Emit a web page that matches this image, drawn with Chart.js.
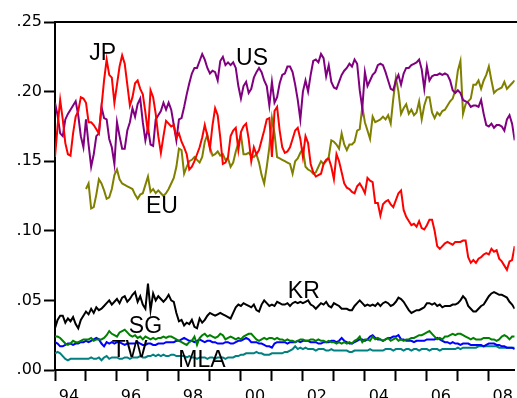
<!DOCTYPE html>
<html>
<head>
<meta charset="utf-8">
<script src="https://cdn.jsdelivr.net/npm/chart.js@4/dist/chart.umd.min.js"></script>
<style>
  html, body { margin: 0; padding: 0; background: #fff; overflow: hidden; }
  canvas { display: block; }
</style>
</head>
<body>
<canvas id="chart" width="517" height="398"></canvas>
<script>
// Monthly shares, January 1994 onward (one value per month).
const firstYear = 1994;

const jp = [
  .153,.175,.194,.180,.163,.155,.154,.170,.182,.186,.196,.195,
  .192,.178,.178,.176,.173,.170,.189,.208,.223,.212,.210,.192,
  .205,.218,.226,.220,.205,.190,.196,.206,.208,.202,.198,.185,
  .170,.201,.196,.184,.168,.156,.168,.179,.177,.175,.176,.167,
  .170,.164,.160,.155,.144,.146,.150,.155,.160,.167,.176,.168,
  .159,.176,.188,.183,.167,.148,.149,.153,.168,.172,.174,.158,
  .171,.175,.177,.166,.150,.160,.155,.158,.165,.172,.180,.181,
  .153,.186,.189,.172,.160,.156,.157,.160,.166,.172,.174,.166,
  .153,.168,.163,.148,.142,.139,.140,.141,.148,.151,.152,.146,
  .137,.155,.150,.142,.134,.131,.130,.128,.127,.132,.134,.131,
  .127,.138,.136,.135,.120,.120,.111,.119,.121,.122,.119,.117,
  .122,.127,.129,.115,.110,.107,.104,.105,.103,.107,.102,.101,
  .104,.108,.108,.100,.089,.087,.089,.091,.092,.091,.090,.092,
  .092,.092,.093,.093,.081,.077,.079,.077,.080,.081,.083,.084,
  .083,.087,.085,.086,.080,.078,.075,.072,.078,.079,.089
];

const us = [
  .192,.183,.170,.168,.180,.184,.187,.190,.193,.183,.168,.160,
  .180,.162,.146,.155,.168,.170,.189,.181,.180,.166,.160,.148,
  .178,.168,.159,.159,.172,.178,.188,.182,.191,.195,.178,.165,
  .174,.162,.161,.180,.183,.186,.192,.187,.192,.187,.176,.165,
  .180,.181,.189,.198,.206,.213,.217,.217,.222,.227,.223,.217,
  .213,.215,.214,.208,.222,.225,.219,.221,.219,.221,.217,.204,
  .195,.204,.207,.199,.202,.210,.214,.217,.214,.208,.204,.190,
  .207,.192,.196,.206,.212,.213,.218,.218,.214,.205,.194,.180,
  .200,.208,.200,.212,.222,.223,.221,.227,.224,.211,.219,.207,
  .203,.202,.207,.212,.215,.217,.220,.218,.223,.220,.201,.188,
  .214,.204,.208,.212,.214,.219,.220,.219,.214,.208,.202,.201,
  .208,.212,.205,.213,.217,.217,.219,.220,.221,.223,.216,.202,
  .218,.208,.211,.212,.212,.213,.212,.213,.212,.208,.201,.199,
  .201,.199,.194,.193,.192,.189,.190,.190,.189,.194,.184,.176,
  .175,.177,.174,.176,.176,.175,.172,.180,.183,.177,.165
];

// EU series begins in January 1995
const euStartMonth = 12;
const eu = [
  .130,.134,.116,.117,.126,.137,.134,.129,.123,.124,.130,.140,
  .144,.137,.134,.133,.132,.131,.130,.126,.123,.126,.127,.133,
  .139,.128,.130,.127,.129,.127,.125,.127,.130,.134,.138,.146,
  .159,.158,.141,.146,.150,.151,.153,.151,.149,.153,.164,.169,
  .160,.154,.155,.157,.154,.155,.151,.152,.146,.149,.157,.163,
  .169,.155,.155,.156,.154,.153,.155,.149,.140,.134,.146,.160,
  .181,.170,.153,.152,.151,.150,.149,.148,.141,.150,.152,.156,
  .159,.146,.144,.143,.141,.142,.146,.150,.148,.150,.153,.165,
  .164,.162,.159,.170,.162,.158,.162,.162,.164,.172,.173,.189,
  .178,.172,.166,.182,.178,.179,.180,.182,.180,.183,.177,.195,
  .210,.200,.184,.188,.191,.184,.187,.183,.185,.193,.180,.190,
  .196,.196,.185,.181,.185,.183,.186,.187,.190,.193,.195,.201,
  .215,.222,.184,.191,.193,.195,.205,.205,.208,.202,.208,.212,
  .218,.208,.199,.201,.202,.203,.207,.202,.204,.206,.208
];

const kr = [
  .030,.036,.039,.039,.034,.037,.035,.038,.033,.030,.036,.039,
  .042,.040,.044,.041,.045,.043,.044,.046,.048,.050,.047,.049,
  .051,.048,.052,.053,.049,.051,.054,.056,.049,.053,.047,.044,
  .062,.043,.055,.050,.053,.051,.049,.051,.054,.050,.049,.041,
  .035,.036,.032,.034,.033,.036,.031,.030,.037,.034,.036,.039,
  .041,.040,.039,.040,.041,.040,.039,.038,.037,.041,.045,.047,
  .046,.048,.047,.046,.045,.047,.043,.042,.047,.050,.048,.046,
  .047,.046,.049,.048,.047,.047,.048,.046,.048,.049,.048,.049,
  .048,.049,.050,.047,.046,.044,.046,.048,.047,.049,.046,.045,
  .048,.047,.046,.044,.044,.044,.043,.043,.046,.048,.050,.048,
  .046,.047,.046,.047,.046,.048,.046,.048,.049,.048,.046,.047,
  .049,.052,.051,.049,.046,.043,.041,.042,.043,.043,.044,.045,
  .048,.048,.047,.048,.046,.047,.045,.046,.046,.046,.047,.047,
  .048,.050,.053,.051,.046,.044,.042,.042,.044,.046,.047,.050,
  .053,.055,.056,.055,.054,.054,.053,.052,.049,.047,.044
];

const sg = [
  .024,.024,.023,.021,.019,.018,.019,.021,.020,.020,.021,.022,
  .022,.022,.023,.021,.022,.022,.022,.023,.025,.028,.026,.025,
  .024,.027,.028,.029,.027,.025,.024,.025,.023,.024,.022,.024,
  .023,.022,.023,.022,.023,.023,.024,.023,.024,.024,.023,.022,
  .021,.020,.019,.018,.020,.021,.024,.018,.023,.025,.026,.024,
  .025,.024,.023,.024,.026,.025,.022,.023,.024,.023,.022,.023,
  .022,.024,.025,.026,.026,.024,.022,.021,.022,.023,.022,.023,
  .023,.022,.023,.022,.022,.021,.022,.021,.021,.020,.021,.022,
  .022,.021,.021,.022,.022,.021,.022,.021,.021,.020,.021,.020,
  .020,.019,.020,.019,.020,.019,.020,.019,.021,.022,.024,.020,
  .022,.022,.021,.024,.022,.023,.022,.021,.022,.023,.021,.022,
  .023,.021,.022,.021,.022,.022,.023,.023,.024,.025,.025,.026,
  .027,.028,.026,.024,.022,.023,.022,.024,.024,.025,.026,.025,
  .026,.026,.025,.024,.023,.022,.023,.022,.022,.022,.023,.023,
  .023,.022,.022,.021,.022,.024,.025,.024,.022,.024,.024
];

const tw = [
  .020,.019,.017,.017,.018,.019,.019,.018,.019,.019,.020,.020,
  .021,.020,.021,.022,.023,.022,.019,.017,.020,.019,.020,.019,
  .020,.020,.019,.018,.019,.019,.019,.019,.020,.019,.018,.018,
  .019,.019,.018,.018,.019,.019,.019,.020,.020,.020,.020,.021,
  .021,.022,.023,.022,.021,.021,.020,.021,.022,.021,.020,.021,
  .021,.020,.020,.019,.019,.019,.020,.020,.019,.019,.020,.021,
  .021,.022,.023,.022,.020,.020,.020,.019,.019,.018,.017,.017,
  .016,.019,.020,.020,.020,.020,.019,.020,.020,.020,.021,.020,
  .021,.021,.021,.020,.020,.020,.019,.019,.020,.020,.020,.021,
  .021,.020,.021,.023,.021,.020,.019,.019,.020,.021,.022,.022,
  .021,.022,.024,.025,.023,.022,.022,.021,.022,.023,.023,.024,
  .024,.025,.022,.022,.021,.021,.021,.020,.021,.021,.021,.021,
  .022,.022,.022,.022,.023,.022,.021,.020,.020,.019,.020,.019,
  .019,.018,.019,.019,.019,.018,.018,.018,.018,.018,.017,.018,
  .019,.019,.019,.018,.018,.017,.017,.016,.016,.016,.015
];

const mla = [
  .012,.013,.012,.010,.008,.007,.008,.008,.008,.008,.008,.008,
  .008,.008,.009,.008,.008,.009,.007,.009,.010,.008,.009,.009,
  .009,.008,.008,.009,.009,.008,.009,.009,.009,.010,.009,.009,
  .010,.010,.011,.010,.011,.010,.011,.010,.010,.011,.011,.010,
  .010,.010,.010,.009,.010,.009,.009,.008,.009,.009,.009,.008,
  .009,.009,.008,.009,.009,.009,.008,.009,.009,.009,.010,.010,
  .011,.011,.012,.012,.012,.012,.013,.012,.012,.011,.011,.011,
  .012,.012,.012,.012,.012,.013,.013,.014,.015,.017,.015,.016,
  .015,.016,.015,.015,.015,.014,.015,.015,.015,.014,.014,.015,
  .014,.014,.014,.014,.014,.014,.013,.013,.014,.014,.014,.014,
  .014,.014,.015,.014,.014,.014,.014,.014,.015,.015,.015,.014,
  .015,.015,.015,.014,.015,.015,.014,.015,.015,.014,.015,.015,
  .015,.014,.015,.015,.015,.014,.015,.015,.015,.015,.015,.015,
  .016,.015,.016,.016,.016,.016,.016,.016,.017,.017,.017,.017,
  .017,.017,.017,.017,.016,.016,.016,.016,.016,.016,.016
];

// Axis tick values and their text
const yTicks = [0, .05, .10, .15, .20, .25];
const yearLabels = ['94', '96', '98', '00', '02', '04', '06', '08'];
const lastYear = 2008;

// Series names and where their captions sit (year, value of the text baseline)
const captions = [
  { text: 'JP',  year: 1995.54, value: .2225 },
  { text: 'US',  year: 2000.36, value: .2190 },
  { text: 'EU',  year: 1997.45, value: .1128 },
  { text: 'KR',  year: 2002.03, value: .0515 },
  { text: 'SG',  year: 1996.92, value: .0264 },
  { text: 'TW',  year: 1996.41, value: .0096 },
  { text: 'MLA', year: 1998.74, value: .0024 }
];

const toPoints = (vals, start = 0) =>
  vals.map((v, i) => ({ x: firstYear + (start + i) / 12, y: v }));

const lastMonth = jp.length - 1;
const xMax = firstYear + lastMonth / 12;

const lineStyle = { borderWidth: 2, pointRadius: 0, tension: 0, fill: false };
const datasets = [
  { label: 'JP',  data: toPoints(jp),  borderColor: '#ff0000', ...lineStyle },
  { label: 'US',  data: toPoints(us),  borderColor: '#800080', ...lineStyle },
  { label: 'EU',  data: toPoints(eu, euStartMonth), borderColor: '#808000', ...lineStyle },
  { label: 'KR',  data: toPoints(kr),  borderColor: '#000000', ...lineStyle },
  { label: 'SG',  data: toPoints(sg),  borderColor: '#008000', ...lineStyle },
  { label: 'TW',  data: toPoints(tw),  borderColor: '#0000ff', ...lineStyle },
  { label: 'MLA', data: toPoints(mla), borderColor: '#008080', ...lineStyle }
];

// Year boundaries get tick marks; labels sit inside each labelled year
const yearMarks = [];
for (let y = firstYear; y <= lastYear; y++) yearMarks.push(y);
const labelOffset = 0.45;
const labelAt = yearLabels.map((t, i) => ({ value: firstYear + 2 * i + labelOffset, text: t }));
const isYearMark = v => Math.abs(v - Math.round(v)) < 1e-6;

const tickFont = { family: '"DejaVu Sans", sans-serif', size: 16 };

const captionPlugin = {
  id: 'captions',
  afterDatasetsDraw(chart) {
    const { ctx, scales: { x, y } } = chart;
    ctx.save();
    ctx.font = '23px "Liberation Sans", Arial, sans-serif';
    ctx.fillStyle = '#000';
    ctx.textAlign = 'center';
    ctx.textBaseline = 'alphabetic';
    captions.forEach(c => ctx.fillText(c.text, x.getPixelForValue(c.year), y.getPixelForValue(c.value)));
    ctx.restore();
  }
};

const topFramePlugin = {
  id: 'topFrame',
  afterDraw(chart) {
    const { ctx, chartArea } = chart;
    ctx.save();
    ctx.strokeStyle = '#000';
    ctx.lineWidth = 2;
    ctx.beginPath();
    ctx.moveTo(chartArea.left - 1, chartArea.top);
    ctx.lineTo(chart.width, chartArea.top);
    ctx.stroke();
    ctx.restore();
  }
};

new Chart(document.getElementById('chart'), {
  type: 'line',
  data: { datasets },
  options: {
    responsive: false,
    animation: false,
    devicePixelRatio: 1,
    layout: { padding: { top: 22, right: 1, left: 0, bottom: 0 } },
    plugins: { legend: { display: false }, tooltip: { enabled: false } },
    scales: {
      x: {
        type: 'linear',
        min: firstYear,
        max: xMax,
        afterBuildTicks(scale) {
          const vals = yearMarks.concat(labelAt.map(l => l.value)).sort((a, b) => a - b);
          scale.ticks = vals.map(v => ({ value: v }));
        },
        afterFit(scale) { scale.height = 28; },
        ticks: {
          autoSkip: false,
          maxRotation: 0,
          padding: 4,
          color: '#000',
          font: { ...tickFont, lineHeight: 1.45 },
          callback(value) {
            const l = labelAt.find(l => Math.abs(l.value - value) < 1e-6);
            return l ? l.text : '';
          }
        },
        grid: {
          drawOnChartArea: false,
          drawTicks: true,
          tickLength: 11,
          tickWidth: 2,
          tickColor: ctx => (ctx.tick && isYearMark(ctx.tick.value)) ? '#000' : 'rgba(0,0,0,0)'
        },
        border: { display: true, color: '#000', width: 2 }
      },
      y: {
        type: 'linear',
        min: 0,
        max: .25,
        afterBuildTicks(scale) { scale.ticks = yTicks.map(v => ({ value: v })); },
        afterFit(scale) { scale.width = 55; },
        ticks: {
          padding: 2,
          color: '#000',
          font: tickFont,
          callback: v => '.' + String(Math.round(v * 100)).padStart(2, '0')
        },
        grid: { drawOnChartArea: false, drawTicks: true, tickLength: 11, tickWidth: 2, tickColor: '#000' },
        border: { display: true, color: '#000', width: 2 }
      }
    }
  },
  plugins: [captionPlugin, topFramePlugin]
});
</script>
</body>
</html>
